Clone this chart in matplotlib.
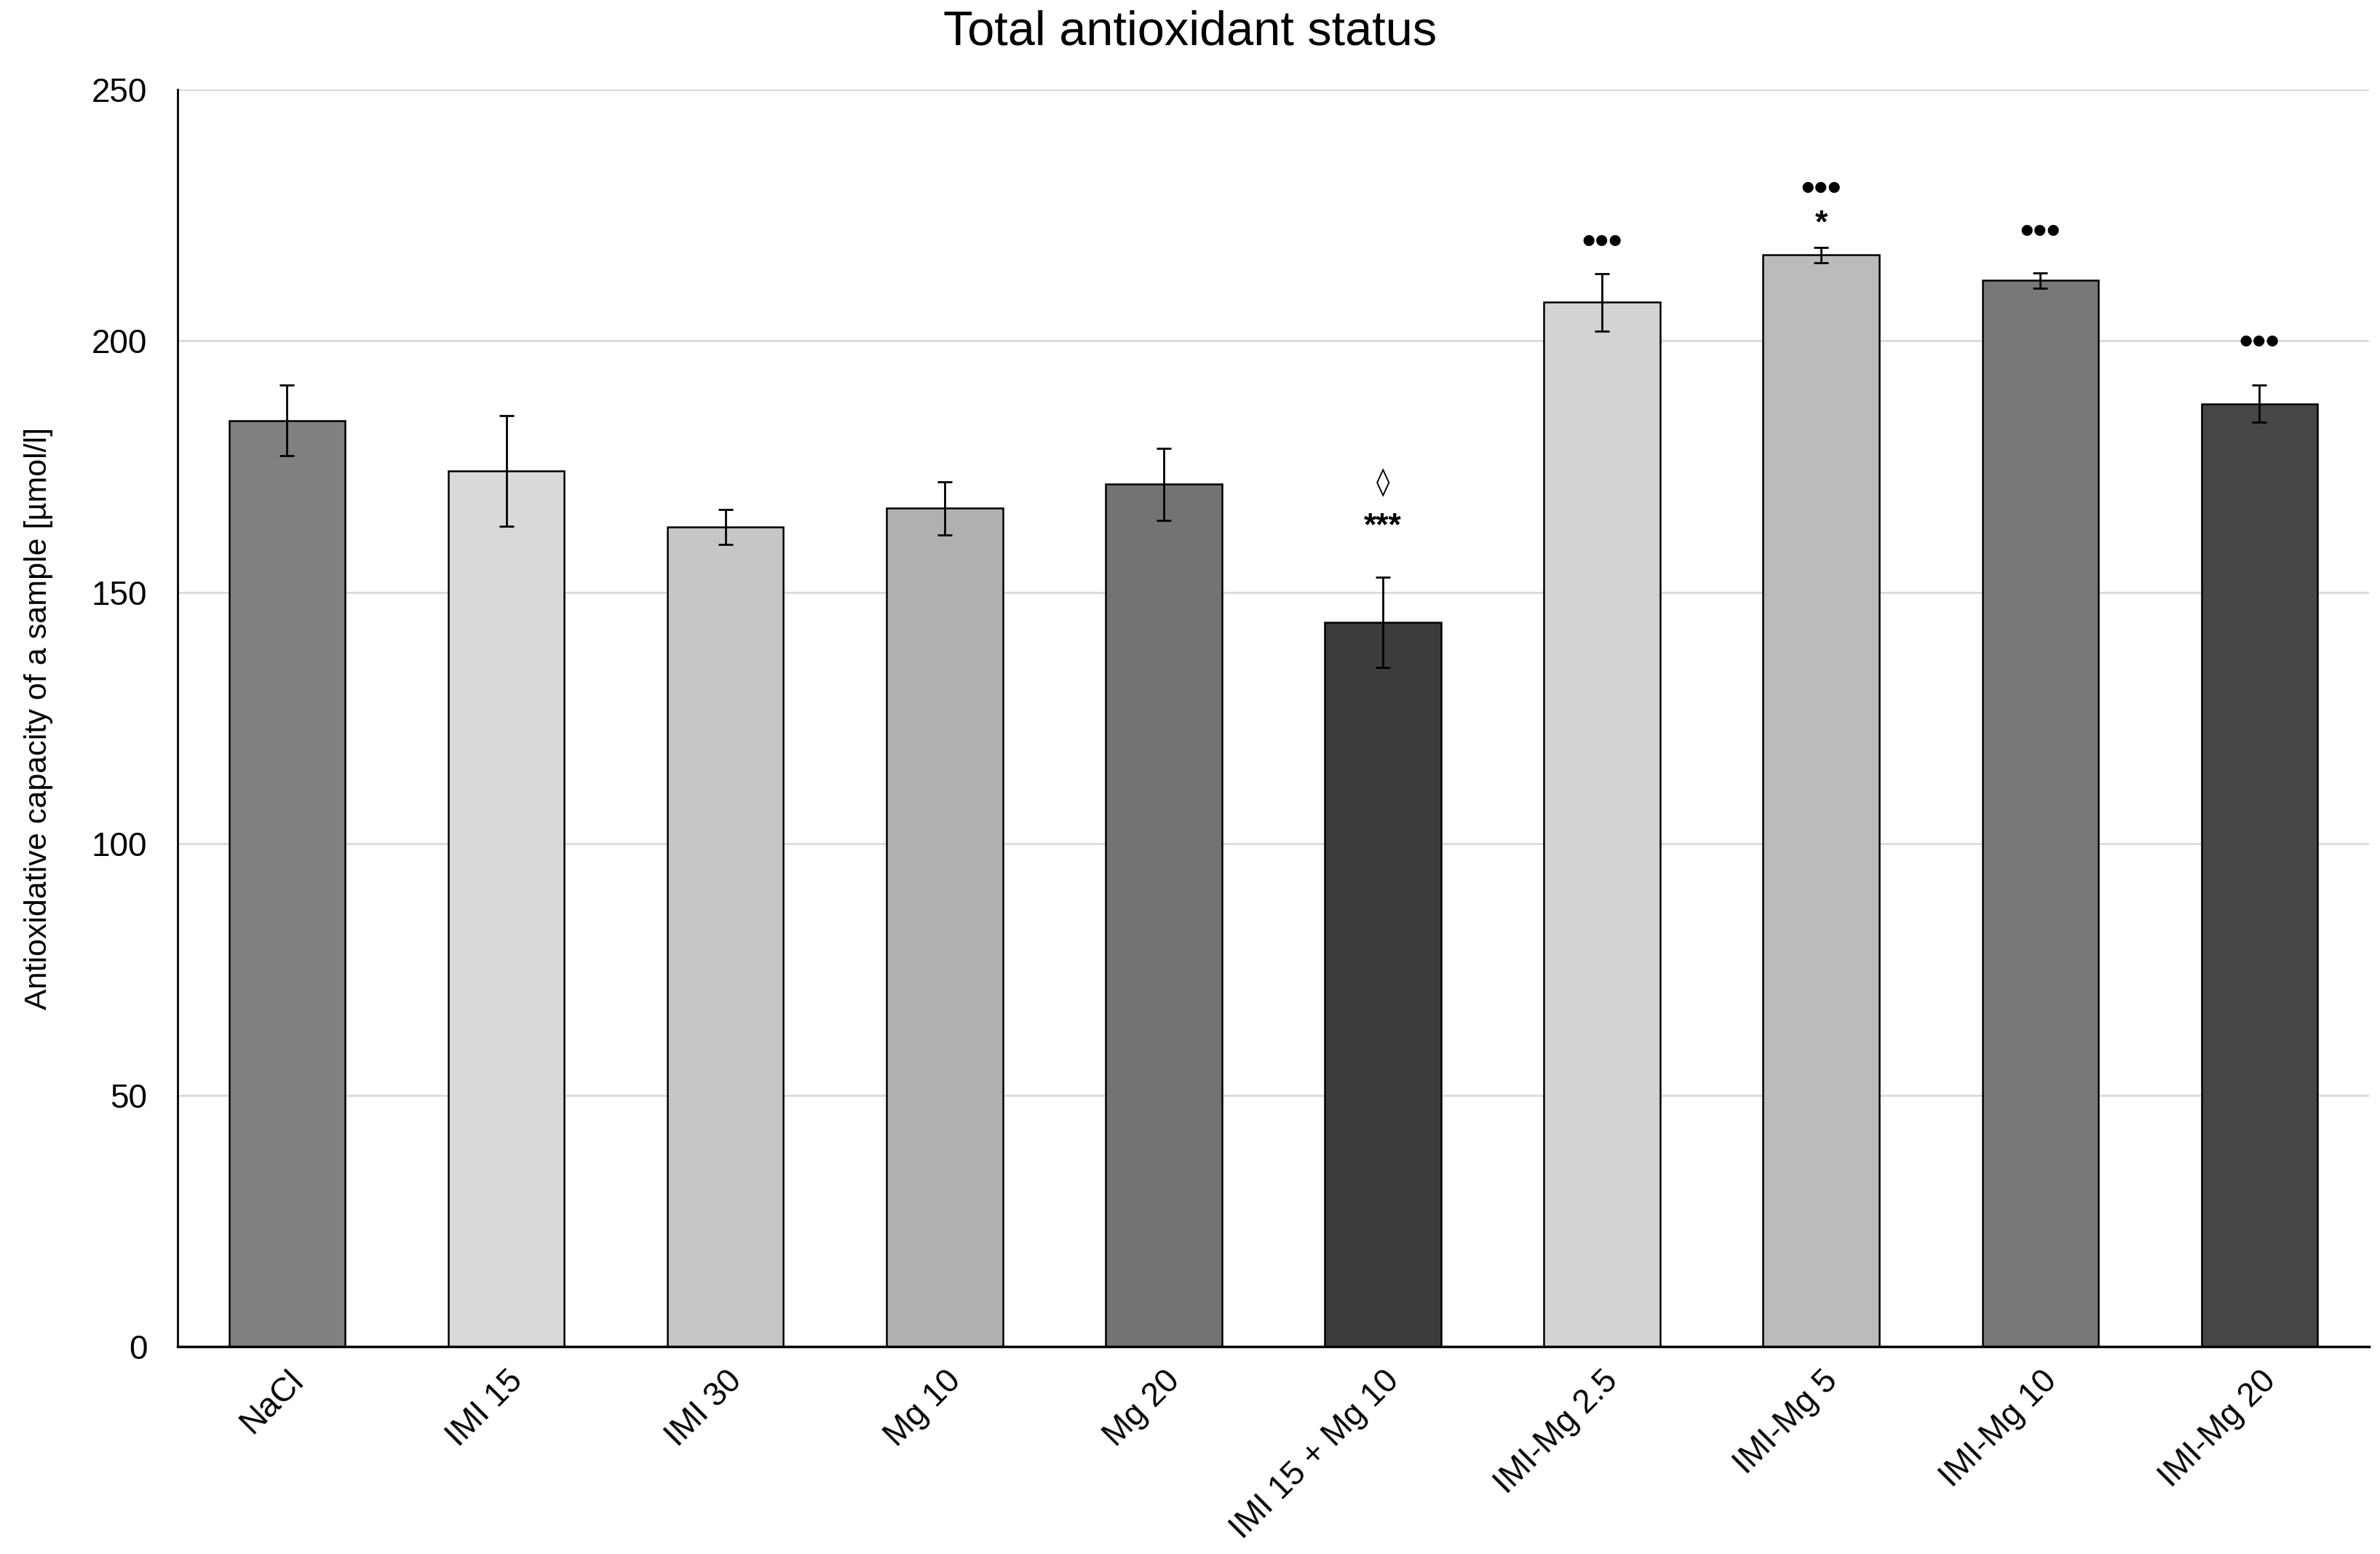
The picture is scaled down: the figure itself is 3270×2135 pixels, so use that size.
import numpy as np
import matplotlib
matplotlib.use("Agg")
import matplotlib.pyplot as plt

plt.rcParams['font.family'] = ['Liberation Sans', 'DejaVu Sans']

groups = ["NaCl", "IMI 15", "IMI 30", "Mg 10", "Mg 20", "IMI 15 + Mg 10",
          "IMI-Mg 2.5", "IMI-Mg 5", "IMI-Mg 10", "IMI-Mg 20"]
means = [184.2, 174.2, 163.0, 166.7, 171.5, 144.0, 207.7, 217.1, 212.0, 187.5]
errors = [7.0, 11.0, 3.5, 5.3, 7.2, 9.0, 5.7, 1.5, 1.5, 3.7]
colors = ["#808080", "#d9d9d9", "#c6c6c6", "#b0b0b0", "#737373", "#3c3c3c",
          "#d3d3d3", "#bbbbbb", "#787878", "#464646"]

# significance marks: (group index, label, y position in data units)
marks = [
    (5, "***", 163.0),
    (5, "\u25ca", 171.8),
    (6, "\u2022\u2022\u2022", 219.5),
    (7, "*", 223.2),
    (7, "\u2022\u2022\u2022", 230.0),
    (8, "\u2022\u2022\u2022", 221.5),
    (9, "\u2022\u2022\u2022", 199.5),
]

fig = plt.figure(figsize=(32.7, 21.35), dpi=100)
ax = fig.add_axes([0.0746, 0.1335, 0.9208, 0.8089])

x = np.arange(len(groups))
ax.bar(x, means, width=0.53, color=colors, edgecolor="black", linewidth=1.8, zorder=2)
ax.errorbar(x, means, yerr=errors, fmt="none", ecolor="black", elinewidth=2,
            capsize=7, capthick=2, zorder=3)

for i, label, y in marks:
    if label.startswith("\u2022"):
        ax.text(i, y, label, ha="center", va="center", fontsize=38, fontweight="bold")
    elif label == "\u25ca":
        ax.text(i, y, label, ha="center", va="center", fontsize=27,
                family=["DejaVu Sans"])
    else:
        ax.text(i, y, label, ha="center", va="center", fontsize=32, fontweight="bold")

ax.set_xlim(-0.5, len(groups) - 0.5)
ax.set_ylim(0, 250)
ax.set_yticks(np.arange(0, 251, 50))
ax.yaxis.grid(True, color="#d9d9d9", linewidth=2, zorder=0)
ax.set_axisbelow(True)
ax.spines["top"].set_visible(False)
ax.spines["right"].set_visible(False)
ax.spines["left"].set_linewidth(2)
ax.spines["bottom"].set_linewidth(2.5)
ax.tick_params(axis="y", length=0, labelsize=33, pad=30)
ax.tick_params(axis="x", length=0, labelsize=33, pad=18)

ax.set_xticks(x)
ax.set_xticklabels(groups, rotation=45, ha="right", rotation_mode="anchor")
ax.set_ylabel("Antioxidative capacity of a sample [\u00b5mol/l]", fontsize=31, labelpad=38)
fig.text(0.5, 0.979, "Total antioxidant status", fontsize=48, ha="center", va="center")

fig.savefig("out.png", dpi=100)
